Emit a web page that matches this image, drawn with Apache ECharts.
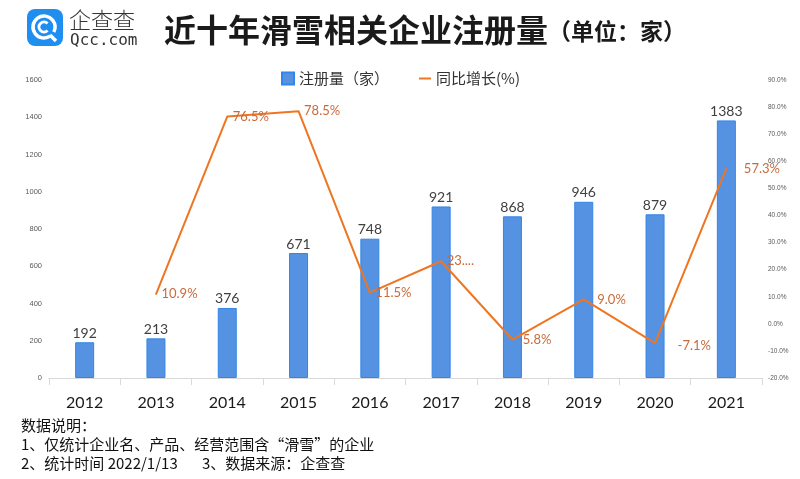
<!DOCTYPE html>
<html><head><meta charset="utf-8">
<script src="https://cdn.jsdelivr.net/npm/echarts/dist/echarts.min.js"></script>
<style>html,body{margin:0;padding:0;background:#fff}#c{width:800px;height:479px}</style>
</head><body><div id="c"></div>
<script>
const years = ['2012','2013','2014','2015','2016','2017','2018','2019','2020','2021'];
const registrations = [192, 213, 376, 671, 748, 921, 868, 946, 879, 1383];
const growthPct = [null, 10.9, 76.5, 78.5, 11.5, 23.1, -5.8, 9.0, -7.1, 57.3];
const leftAxisRange = [0, 1600, 200];
const rightAxisRange = [-20, 90, 10];
const seriesNames = ['注册量（家）', '同比增长(%)'];
const titleMain = '近十年滑雪相关企业注册量';
const titleUnit = '（单位：家）';
const noteLines = ['数据说明：', '1、仅统计企业名、产品、经营范围含“滑雪”的企业', '2、统计时间 2022/1/13', '3、数据来源：企查查'];

const CJK = '"Noto Sans CJK SC", sans-serif';
const chart = echarts.init(document.getElementById('c'), null, {renderer: 'canvas'});

const labelTweaks = {
  5: {width: 29, overflow: 'truncate', ellipsis: '....'},
  7: {offset: [8, 0]},
  8: {offset: [17, 3]},
  9: {offset: [12, 0]}
};
const lineData = growthPct.map((v, i) => labelTweaks[i] ? {value: v, label: labelTweaks[i]} : v);

chart.setOption({
  animation: false,
  backgroundColor: '#fff',
  grid: {left: 49, right: 38, top: 80, bottom: 101, containLabel: false},
  legend: {
    left: 276, top: 66, itemWidth: 12, itemHeight: 12, itemGap: 30,
    textStyle: {fontFamily: CJK, fontSize: 15, color: '#333'},
    data: [
      {name: seriesNames[0], icon: 'rect'},
      {name: seriesNames[1], icon: 'path://M0,0L12,0L12,2L0,2Z', itemStyle: {color: '#EE7622', opacity: 1}}
    ]
  },
  xAxis: {
    type: 'category', data: years, boundaryGap: true,
    axisLine: {lineStyle: {color: '#d9d9d9', width: 1}},
    axisTick: {show: true, length: 7, lineStyle: {color: '#d9d9d9'}},
    axisLabel: {color: '#1a1a1a', fontSize: 16, fontFamily: 'Lato, sans-serif', margin: 17}
  },
  yAxis: [
    {
      type: 'value', min: leftAxisRange[0], max: leftAxisRange[1], interval: leftAxisRange[2],
      axisLine: {show: false}, axisTick: {show: false}, splitLine: {show: false},
      axisLabel: {color: '#595959', fontSize: 7.5, fontFamily: '"Liberation Sans", sans-serif', margin: 7,
        formatter: v => String(v)}
    },
    {
      type: 'value', min: rightAxisRange[0], max: rightAxisRange[1], interval: rightAxisRange[2],
      axisLine: {show: false}, axisTick: {show: false}, splitLine: {show: false},
      axisLabel: {color: '#595959', fontSize: 6.5, fontFamily: '"Liberation Sans", sans-serif', margin: 6,
        formatter: v => v.toFixed(1) + '%'}
    }
  ],
  series: [
    {
      name: seriesNames[0], type: 'bar', data: registrations, barWidth: 19,
      itemStyle: {color: '#5592E2', borderColor: '#3485E8', borderWidth: 1},
      label: {show: true, position: 'top', distance: 2, color: '#404040', fontSize: 14, fontFamily: 'Lato, sans-serif'}
    },
    {
      name: seriesNames[1], type: 'line', yAxisIndex: 1, data: lineData,
      symbol: 'circle', symbolSize: 1, showSymbol: true, connectNulls: false,
      lineStyle: {color: '#EE7622', width: 2}, itemStyle: {color: '#EE7622'},
      label: {show: true, position: 'right', distance: 5, color: '#C96A3A', fontSize: 13, fontFamily: 'Lato, sans-serif',
        formatter: p => p.value == null ? '' : p.value.toFixed(1) + '%'}
    }
  ],
  graphic: [
    {type: 'rect', shape: {x: 27, y: 9, width: 36, height: 37, r: 8}, style: {fill: '#1F8EF1'}},
    {type: 'arc', shape: {cx: 44, cy: 27, r: 11, startAngle: Math.PI * 0.3, endAngle: Math.PI * 2.15, clockwise: true},
      style: {stroke: '#fff', lineWidth: 3.5, fill: null}},
    {type: 'arc', shape: {cx: 44, cy: 27, r: 5, startAngle: Math.PI * 0.25, endAngle: Math.PI * 1.75, clockwise: true},
      style: {stroke: '#fff', lineWidth: 3, fill: null}},
    {type: 'line', shape: {x1: 50, y1: 35, x2: 56, y2: 41}, style: {stroke: '#fff', lineWidth: 3.5}},
    {type: 'text', x: 69, y: 20, style: {text: '企查查', font: '300 22px ' + CJK, fill: '#333', textVerticalAlign: 'middle'}},
    {type: 'text', x: 70, y: 41, style: {text: 'Qcc.com', font: '16px "DejaVu Sans Mono", monospace', fill: '#333', textVerticalAlign: 'middle'}},
    {type: 'text', x: 164, y: 30, style: {text: titleMain, font: 'bold 32px ' + CJK, fill: '#1a1a1a', textVerticalAlign: 'middle'}},
    {type: 'text', x: 548, y: 31, style: {text: titleUnit, font: 'bold 23px ' + CJK, fill: '#1a1a1a', textVerticalAlign: 'middle'}},
    {type: 'text', x: 21, y: 425, style: {text: noteLines[0], font: '15px ' + CJK, fill: '#111', textVerticalAlign: 'middle'}},
    {type: 'text', x: 21, y: 444, style: {text: noteLines[1], font: '15px ' + CJK, fill: '#111', textVerticalAlign: 'middle'}},
    {type: 'text', x: 21, y: 463, style: {text: noteLines[2], font: '15px ' + CJK, fill: '#111', textVerticalAlign: 'middle'}},
    {type: 'text', x: 202, y: 463, style: {text: noteLines[3], font: '15px ' + CJK, fill: '#111', textVerticalAlign: 'middle'}}
  ]
});
</script></body></html>
